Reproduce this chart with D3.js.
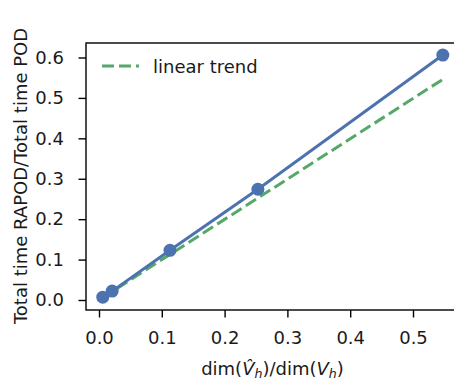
<!DOCTYPE html>
<html>
<head>
  <meta charset="utf-8">
  <script src="https://d3js.org/d3.v7.min.js"></script>
  <style>
    body { margin: 0; background: #fff; }
    text { font-family: "DejaVu Sans", sans-serif; }
  </style>
</head>
<body>
<svg id="chart"></svg>
<script>
// data
var dimRatio = [0.006, 0.021, 0.113, 0.253, 0.5475];
var timeRatio = [0.007, 0.022, 0.123, 0.274, 0.606];
var trendX = [0.006, 0.5475];
var trendY = [0.006, 0.546];
var xTicks = [0.0, 0.1, 0.2, 0.3, 0.4, 0.5];
var yTicks = [0.0, 0.1, 0.2, 0.3, 0.4, 0.5, 0.6];

var width = 454, height = 382;
var blue = "#4c72b0", green = "#55a868";
var fs = "18px";

// axes box (right side runs off the canvas like the original)
var box = {left: 86, top: 43, right: 460, bottom: 310};

var x = d3.scaleLinear().domain([0, 0.5]).range([99, 413]);
var y = d3.scaleLinear().domain([0, 0.6]).range([300, 57.5]);

var svg = d3.select("#chart")
    .attr("width", width)
    .attr("height", height);

// x axis
var xAxis = svg.append("g")
    .attr("transform", "translate(0," + box.bottom + ")")
    .call(d3.axisBottom(x).tickValues(xTicks).tickFormat(d3.format(".1f"))
      .tickSize(7.5).tickPadding(14));
xAxis.select(".domain").remove();

var yAxis = svg.append("g")
    .attr("transform", "translate(" + box.left + ",0)")
    .call(d3.axisLeft(y).tickValues(yTicks).tickFormat(d3.format(".1f"))
      .tickSize(7.5).tickPadding(14.5));
yAxis.select(".domain").remove();

[xAxis, yAxis].forEach(function(g) {
  g.selectAll("line").attr("stroke", "#000").attr("stroke-width", 1.4);
  g.selectAll("text")
    .attr("fill", "#1a1a1a")
    .style("font-size", fs)
    .style("font-family", "DejaVu Sans");
});

// frame
svg.append("rect")
    .attr("x", box.left)
    .attr("y", box.top)
    .attr("width", box.right - box.left)
    .attr("height", box.bottom - box.top)
    .attr("fill", "none")
    .attr("stroke", "#000")
    .attr("stroke-width", 1.4);

// trend line
var trend = trendX.map(function(d, i) { return [d, trendY[i]]; });
svg.append("path")
    .datum(trend)
    .attr("fill", "none")
    .attr("stroke", green)
    .attr("stroke-width", 3)
    .attr("stroke-dasharray", "12,5")
    .attr("d", d3.line().x(function(d) { return x(d[0]); }).y(function(d) { return y(d[1]); }));

// measured line + dots
var pts = dimRatio.map(function(d, i) { return [d, timeRatio[i]]; });
svg.append("path")
    .datum(pts)
    .attr("fill", "none")
    .attr("stroke", blue)
    .attr("stroke-width", 3)
    .attr("d", d3.line().x(function(d) { return x(d[0]); }).y(function(d) { return y(d[1]); }));

svg.selectAll(".dot")
    .data(pts)
  .enter().append("circle")
    .attr("class", "dot")
    .attr("cx", function(d) { return x(d[0]); })
    .attr("cy", function(d) { return y(d[1]); })
    .attr("r", 6.5)
    .attr("fill", blue);

// legend
svg.append("line")
    .attr("x1", 102).attr("x2", 139)
    .attr("y1", 66).attr("y2", 66)
    .attr("stroke", green)
    .attr("stroke-width", 3)
    .attr("stroke-dasharray", "12,5");
svg.append("text")
    .attr("x", 153).attr("y", 73)
    .attr("fill", "#1a1a1a")
    .style("font-size", fs)
    .text("linear trend");

// axis labels
var xl = svg.append("text")
    .attr("x", 272.5).attr("y", 375)
    .attr("text-anchor", "middle")
    .attr("fill", "#1a1a1a")
    .style("font-size", fs);
xl.append("tspan").text("dim(");
xl.append("tspan").style("font-style", "italic").text("V\u0302");
xl.append("tspan").style("font-style", "italic").style("font-size", "12.6px").attr("dy", 3).text("h");
xl.append("tspan").attr("dy", -3).text(")/dim(");
xl.append("tspan").style("font-style", "italic").text("V");
xl.append("tspan").style("font-style", "italic").style("font-size", "12.6px").attr("dy", 3).text("h");
xl.append("tspan").attr("dy", -3).text(")");

svg.append("text")
    .attr("transform", "translate(27,176) rotate(-90)")
    .attr("text-anchor", "middle")
    .attr("fill", "#1a1a1a")
    .style("font-size", fs)
    .text("Total time RAPOD/Total time POD");
</script>
</body>
</html>
